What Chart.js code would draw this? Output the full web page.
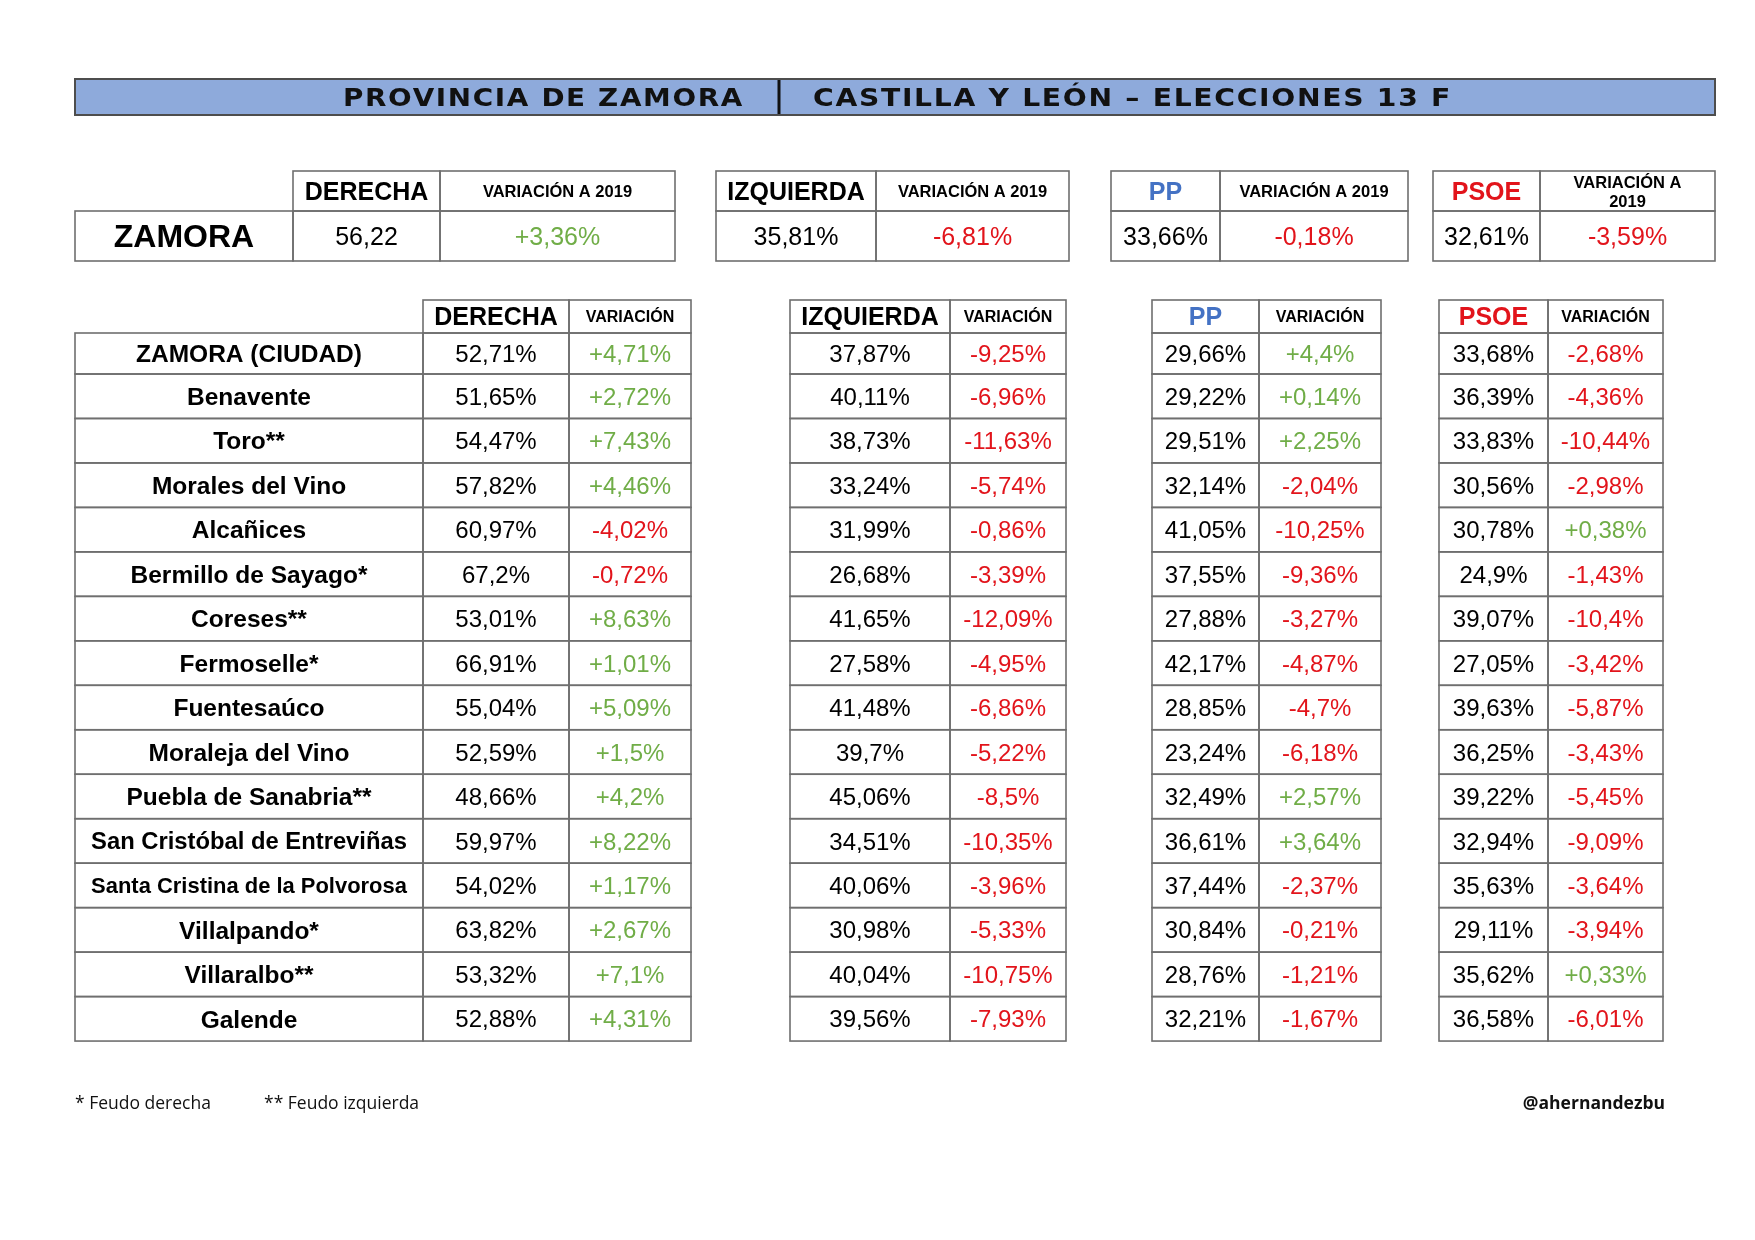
<!DOCTYPE html>
<html>
<head>
<meta charset="utf-8">
<script src="https://cdn.jsdelivr.net/npm/chart.js@4.4.1/dist/chart.umd.min.js"></script>
<style>
  html, body { margin: 0; padding: 0; background: #fff; }
  #wrap { width: 1755px; height: 1240px; }
</style>
</head>
<body>
<div id="wrap"><canvas id="tabla" width="1755" height="1240"></canvas></div>
<script>
// --- datos ---
const titulo = ['PROVINCIA DE ZAMORA', 'CASTILLA Y LEÓN – ELECCIONES 13 F'];

const bloques = ['DERECHA', 'IZQUIERDA', 'PP', 'PSOE'];
const resumenNombre = 'ZAMORA';
const resumenValor = [56.22, 35.81, 33.66, 32.61];
const resumenVariacion = [3.36, -6.81, -0.18, -3.59];

const municipios = [
  'ZAMORA (CIUDAD)', 'Benavente', 'Toro**', 'Morales del Vino', 'Alcañices',
  'Bermillo de Sayago*', 'Coreses**', 'Fermoselle*', 'Fuentesaúco', 'Moraleja del Vino',
  'Puebla de Sanabria**', 'San Cristóbal de Entreviñas', 'Santa Cristina de la Polvorosa',
  'Villalpando*', 'Villaralbo**', 'Galende'
];
const derecha = [52.71, 51.65, 54.47, 57.82, 60.97, 67.2, 53.01, 66.91, 55.04, 52.59, 48.66, 59.97, 54.02, 63.82, 53.32, 52.88];
const derechaVar = [4.71, 2.72, 7.43, 4.46, -4.02, -0.72, 8.63, 1.01, 5.09, 1.5, 4.2, 8.22, 1.17, 2.67, 7.1, 4.31];
const izquierda = [37.87, 40.11, 38.73, 33.24, 31.99, 26.68, 41.65, 27.58, 41.48, 39.7, 45.06, 34.51, 40.06, 30.98, 40.04, 39.56];
const izquierdaVar = [-9.25, -6.96, -11.63, -5.74, -0.86, -3.39, -12.09, -4.95, -6.86, -5.22, -8.5, -10.35, -3.96, -5.33, -10.75, -7.93];
const pp = [29.66, 29.22, 29.51, 32.14, 41.05, 37.55, 27.88, 42.17, 28.85, 23.24, 32.49, 36.61, 37.44, 30.84, 28.76, 32.21];
const ppVar = [4.4, 0.14, 2.25, -2.04, -10.25, -9.36, -3.27, -4.87, -4.7, -6.18, 2.57, 3.64, -2.37, -0.21, -1.21, -1.67];
const psoe = [33.68, 36.39, 33.83, 30.56, 30.78, 24.9, 39.07, 27.05, 39.63, 36.25, 39.22, 32.94, 35.63, 29.11, 35.62, 36.58];
const psoeVar = [-2.68, -4.36, -10.44, -2.98, 0.38, -1.43, -10.4, -3.42, -5.87, -3.43, -5.45, -9.09, -3.64, -3.94, 0.33, -6.01];

const notas = ['* Feudo derecha', '** Feudo izquierda'];
const firma = '@ahernandezbu';

// --- maquetacion (unidades de la escala = px de la lamina) ---
const GREEN = '#70ad47', RED = '#e2141b', BLUE = '#4472c4', LINE = '#6f6f6f';
const FONT = '"Liberation Sans", Arial, sans-serif';
const cabeceraColor = ['#000', '#000', BLUE, RED];

const resumenCols = [[293, 440, 675], [716, 876, 1069], [1111, 1220, 1408], [1433, 1540, 1715]];
const tablaCols = [[423, 569, 691], [790, 950, 1066], [1152, 1259, 1381], [1439, 1548, 1663]];
const series = [[derecha, derechaVar], [izquierda, izquierdaVar], [pp, ppVar], [psoe, psoeVar]];

const fmt = v => String(v).replace('.', ',');
const fmtVar = v => (v > 0 ? '+' : '') + fmt(v) + '%';

const tablePlugin = {
  id: 'tablaElecciones',
  afterDraw(chart) {
    const ctx = chart.ctx;
    const X = v => chart.scales.x.getPixelForValue(v);
    const Y = v => chart.scales.y.getPixelForValue(v);

    const rect = (x0, y0, x1, y1) => {
      ctx.strokeRect(X(x0), Y(y0), X(x1) - X(x0), Y(y1) - Y(y0));
    };
    const text = (t, x0, x1, yMid, size, weight, color, maxW) => {
      let s = size;
      ctx.font = `${weight} ${s}px ${FONT}`;
      if (maxW) {
        const w = ctx.measureText(t).width;
        if (w > maxW) { s = s * maxW / w; ctx.font = `${weight} ${s}px ${FONT}`; }
      }
      ctx.fillStyle = color;
      ctx.textAlign = 'center';
      ctx.textBaseline = 'alphabetic';
      ctx.fillText(t, (X(x0) + X(x1)) / 2, Y(yMid) + s * 0.358);
    };

    ctx.save();

    // barra de titulo
    ctx.fillStyle = '#8eaadb';
    ctx.fillRect(X(75), Y(79), X(1715) - X(75), Y(115) - Y(79));
    ctx.strokeStyle = '#4d4d4d';
    ctx.lineWidth = 2;
    rect(75, 79, 1715, 115);
    ctx.strokeStyle = '#111';
    ctx.lineWidth = 3;
    ctx.beginPath();
    ctx.moveTo(X(779), Y(80));
    ctx.lineTo(X(779), Y(114));
    ctx.stroke();

    // titulo ensanchado a la medida de la lamina
    ctx.fillStyle = '#111';
    ctx.textBaseline = 'alphabetic';
    ctx.textAlign = 'left';
    ctx.font = `bold 25px "DejaVu Sans", sans-serif`;
    ctx.letterSpacing = '1.5px';
    const drawTitle = (t, xLeft, xRight) => {
      const w0 = ctx.measureText(t).width;
      const sx = (X(xRight) - X(xLeft)) / w0;
      ctx.save();
      ctx.translate(X(xLeft), Y(97) + 9);
      ctx.scale(sx, 1);
      ctx.fillText(t, 0, 0);
      ctx.restore();
    };
    drawTitle(titulo[0], 343, 744);
    drawTitle(titulo[1], 813, 1452);
    ctx.letterSpacing = '0px';

    // tabla resumen
    ctx.strokeStyle = LINE;
    ctx.lineWidth = 1.6;
    rect(75, 211, 293, 261);
    text(resumenNombre, 75, 293, 236, 32, 'bold', '#000');
    resumenCols.forEach((c, i) => {
      rect(c[0], 171, c[1], 211);
      rect(c[1], 171, c[2], 211);
      rect(c[0], 211, c[1], 261);
      rect(c[1], 211, c[2], 261);
      text(bloques[i], c[0], c[1], 191, 25, 'bold', cabeceraColor[i]);
      if (X(c[2]) - X(c[1]) < 185) {
        text('VARIACIÓN A', c[1], c[2], 182, 16.5, 'bold', '#000');
        text('2019', c[1], c[2], 201, 16.5, 'bold', '#000');
      } else {
        text('VARIACIÓN A 2019', c[1], c[2], 191, 16.5, 'bold', '#000');
      }
      const suf = i === 0 ? '' : '%';
      text(fmt(resumenValor[i]) + suf, c[0], c[1], 236, 25, 'normal', '#000');
      text(fmtVar(resumenVariacion[i]), c[1], c[2], 236, 25, 'normal', resumenVariacion[i] > 0 ? GREEN : RED);
    });

    // tabla de municipios
    const rowTop = i => (i === 0 ? 333 : 374 + (i - 1) * 44.47);
    const rowBot = i => 374 + i * 44.47;
    municipios.forEach((m, r) => {
      const y0 = rowTop(r), y1 = rowBot(r), ym = (y0 + y1) / 2;
      ctx.strokeStyle = LINE;
      ctx.lineWidth = 1.6;
      rect(75, y0, 423, y1);
      text(m, 75, 423, ym, 24.5, 'bold', '#000', 316);
      tablaCols.forEach((c, k) => {
        const [vals, vars] = series[k];
        ctx.strokeStyle = LINE;
        ctx.lineWidth = 1.6;
        rect(c[0], y0, c[1], y1);
        rect(c[1], y0, c[2], y1);
        text(fmt(vals[r]) + '%', c[0], c[1], ym, 24, 'normal', '#000');
        text(fmtVar(vars[r]), c[1], c[2], ym, 24, 'normal', vars[r] > 0 ? GREEN : RED);
      });
    });
    tablaCols.forEach((c, k) => {
      ctx.strokeStyle = LINE;
      ctx.lineWidth = 1.6;
      rect(c[0], 300, c[1], 333);
      rect(c[1], 300, c[2], 333);
      text(bloques[k], c[0], c[1], 316.5, 25, 'bold', cabeceraColor[k]);
      text('VARIACIÓN', c[1], c[2], 316, 16, 'bold', '#000');
    });

    // notas al pie
    ctx.fillStyle = '#111';
    ctx.textAlign = 'left';
    ctx.textBaseline = 'alphabetic';
    ctx.font = `17.5px "Open Sans", sans-serif`;
    ctx.fillText(notas[0], X(75), Y(1109));
    ctx.fillText(notas[1], X(264), Y(1109));
    ctx.font = `bold 17.5px "Open Sans", sans-serif`;
    ctx.textAlign = 'right';
    ctx.fillText(firma, X(1665), Y(1109));

    ctx.restore();
  }
};

new Chart(document.getElementById('tabla'), {
  type: 'scatter',
  data: { datasets: [{ data: [], pointRadius: 0 }] },
  options: {
    responsive: false,
    animation: false,
    events: [],
    layout: { padding: 0 },
    plugins: { legend: { display: false }, tooltip: { enabled: false } },
    scales: {
      x: { type: 'linear', min: 0, max: 1755, display: false },
      y: { type: 'linear', min: 0, max: 1240, reverse: true, display: false }
    }
  },
  plugins: [tablePlugin]
});
</script>
</body>
</html>
